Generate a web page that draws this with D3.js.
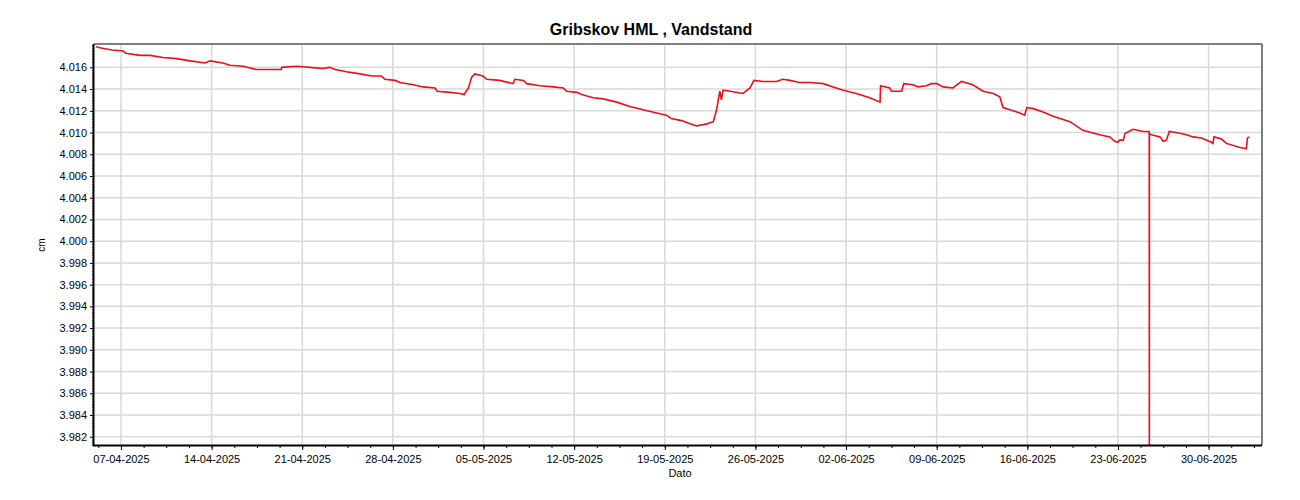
<!DOCTYPE html>
<html><head><meta charset="utf-8">
<script src="https://cdn.jsdelivr.net/npm/d3@7"></script>
<style>body{margin:0;background:#fff}svg{display:block}text{font-family:"Liberation Sans",Arial,sans-serif}</style>
</head><body>
<svg id="c" width="1300" height="500"></svg>
<script>
const title = "Gribskov HML , Vandstand";
const yLabel = "cm";
const xLabel = "Dato";
const times = ["2025-04-05T02:00","2025-04-05T09:00","2025-04-06T07:00","2025-04-07T04:00","2025-04-07T09:00","2025-04-08T11:00","2025-04-09T06:00","2025-04-10T06:00","2025-04-11T07:00","2025-04-12T08:00","2025-04-13T12:00","2025-04-13T21:00","2025-04-14T21:00","2025-04-15T10:00","2025-04-16T10:00","2025-04-17T11:00","2025-04-19T09:00","2025-04-19T10:00","2025-04-20T14:00","2025-04-21T14:00","2025-04-22T15:00","2025-04-23T03:00","2025-04-23T13:00","2025-04-24T10:00","2025-04-25T11:00","2025-04-26T09:00","2025-04-27T03:00","2025-04-27T09:00","2025-04-28T04:00","2025-04-28T13:00","2025-04-29T14:00","2025-04-30T08:00","2025-05-01T06:00","2025-05-01T10:00","2025-05-02T10:00","2025-05-03T04:00","2025-05-03T12:00","2025-05-03T20:00","2025-05-04T02:00","2025-05-04T08:00","2025-05-04T23:00","2025-05-05T06:00","2025-05-06T06:00","2025-05-07T07:00","2025-05-07T10:00","2025-05-08T02:00","2025-05-08T08:00","2025-05-09T09:00","2025-05-10T09:00","2025-05-11T04:00","2025-05-11T10:00","2025-05-12T05:00","2025-05-12T14:00","2025-05-13T11:00","2025-05-14T06:00","2025-05-15T07:00","2025-05-16T07:00","2025-05-17T08:00","2025-05-18T09:00","2025-05-19T03:00","2025-05-19T12:00","2025-05-20T07:00","2025-05-20T23:00","2025-05-21T11:00","2025-05-22T06:00","2025-05-22T18:00","2025-05-23T00:00","2025-05-23T06:00","2025-05-23T09:00","2025-05-23T12:00","2025-05-24T01:00","2025-05-25T01:00","2025-05-25T14:00","2025-05-25T21:00","2025-05-26T14:00","2025-05-27T15:00","2025-05-28T03:00","2025-05-28T16:00","2025-05-29T10:00","2025-05-30T05:00","2025-05-31T06:00","2025-06-01T00:00","2025-06-01T19:00","2025-06-02T19:00","2025-06-03T20:00","2025-06-04T15:00","2025-06-04T16:00","2025-06-05T09:00","2025-06-05T12:00","2025-06-06T07:00","2025-06-06T11:00","2025-06-07T04:00","2025-06-07T14:00","2025-06-08T05:00","2025-06-08T14:00","2025-06-09T00:00","2025-06-09T12:00","2025-06-10T06:00","2025-06-10T22:00","2025-06-11T19:00","2025-06-12T14:00","2025-06-13T09:00","2025-06-13T21:00","2025-06-14T03:00","2025-06-14T16:00","2025-06-15T10:00","2025-06-15T19:00","2025-06-15T23:00","2025-06-16T11:00","2025-06-17T05:00","2025-06-18T00:00","2025-06-19T07:00","2025-06-20T07:00","2025-06-21T14:00","2025-06-22T09:00","2025-06-22T18:00","2025-06-23T00:00","2025-06-23T03:00","2025-06-23T10:00","2025-06-23T13:00","2025-06-24T04:00","2025-06-24T23:00","2025-06-25T10:00","2025-06-25T10:10","2025-06-25T10:20","2025-06-25T14:00","2025-06-26T06:00","2025-06-26T12:00","2025-06-26T18:00","2025-06-26T23:00","2025-06-27T12:00","2025-06-28T07:00","2025-06-28T19:00","2025-06-29T11:00","2025-06-30T05:00","2025-06-30T08:00","2025-06-30T10:00","2025-07-01T00:00","2025-07-01T09:00","2025-07-02T09:00","2025-07-02T22:00","2025-07-03T00:00","2025-07-03T04:00"];
const levels = [4.0179,4.0178,4.0176,4.0175,4.0173,4.0171,4.0171,4.0169,4.0168,4.0166,4.0164,4.0166,4.0164,4.0162,4.0161,4.0158,4.0158,4.0160,4.0161,4.0160,4.0159,4.0160,4.0158,4.0156,4.0154,4.0152,4.0152,4.0149,4.0148,4.0146,4.0144,4.0142,4.0141,4.0138,4.0137,4.0136,4.0135,4.0141,4.0151,4.0154,4.0152,4.0149,4.0148,4.0145,4.0149,4.0148,4.0145,4.0143,4.0142,4.0141,4.0138,4.0137,4.0135,4.0132,4.0131,4.0128,4.0124,4.0121,4.0118,4.0116,4.0113,4.0111,4.0108,4.0106,4.0108,4.0110,4.0121,4.0138,4.0130,4.0139,4.0138,4.0136,4.0141,4.0148,4.0147,4.0147,4.0149,4.0148,4.0146,4.0146,4.0145,4.0142,4.0139,4.0136,4.0132,4.0128,4.0143,4.0141,4.0138,4.0138,4.0145,4.0144,4.0142,4.0143,4.0145,4.0145,4.0142,4.0141,4.0147,4.0144,4.0138,4.0136,4.0133,4.0123,4.0121,4.0118,4.0116,4.0123,4.0122,4.0119,4.0115,4.0110,4.0102,4.0098,4.0096,4.0092,4.0091,4.0093,4.0093,4.0099,4.0103,4.0101,4.0101,3.9750,4.0099,4.0098,4.0096,4.0092,4.0093,4.0101,4.0100,4.0098,4.0096,4.0095,4.0091,4.0090,4.0096,4.0094,4.0090,4.00865,4.0085,4.0095,4.0096];
const xDomain = ["2025-04-04T22:00","2025-07-04T03:00"];
const yDomain = [3.98124, 4.01815];
const yTickValues = [3.982,3.984,3.986,3.988,3.990,3.992,3.994,3.996,3.998,4.000,4.002,4.004,4.006,4.008,4.010,4.012,4.014,4.016];
const xTickLabels = ["07-04-2025","14-04-2025","21-04-2025","28-04-2025","05-05-2025","12-05-2025","19-05-2025","26-05-2025","02-06-2025","09-06-2025","16-06-2025","23-06-2025","30-06-2025"];

const parseT = d3.timeParse("%Y-%m-%dT%H:%M");
const parseL = d3.timeParse("%d-%m-%Y");
const data = times.map((t,i)=>({t:parseT(t), v:levels[i]}));
const L=94, R=1262, T=44, B=445;
const svg = d3.select("#c");
const x = d3.scaleTime().domain(xDomain.map(parseT)).range([L,R]);
const y = d3.scaleLinear().domain(yDomain).range([B,T]);
const xMajor = xTickLabels.map(parseL);
const xMinor = [];
for (let t = +xMajor[0] - 42*3600e3; t < +x.domain()[1]; t += 42*3600e3) xMinor.push(new Date(t));
const yMinor = d3.range(Math.ceil(yDomain[0]/0.00025), Math.floor(yDomain[1]/0.00025)+1).map(k=>k*0.00025);

// grid
svg.append("g").selectAll("line").data(yTickValues).join("line")
  .attr("x1",L).attr("x2",R).attr("y1",d=>y(d)).attr("y2",d=>y(d))
  .attr("stroke","#d9d9d9").attr("stroke-width",1.5);
svg.append("g").selectAll("line").data(xMajor).join("line")
  .attr("x1",d=>x(d)).attr("x2",d=>x(d)).attr("y1",T).attr("y2",B)
  .attr("stroke","#d9d9d9").attr("stroke-width",1.5);

// line
svg.append("clipPath").attr("id","clip").append("rect").attr("x",L).attr("y",T).attr("width",R-L).attr("height",B-T);
svg.append("path").datum(data).attr("clip-path","url(#clip)")
  .attr("fill","none").attr("stroke","#e8101a").attr("stroke-width",1.6)
  .attr("d", d3.line().x(d=>x(d.t)).y(d=>y(d.v)));

// frame
svg.append("line").attr("x1",L).attr("x2",R).attr("y1",T).attr("y2",T).attr("stroke","#7f7f7f").attr("stroke-width",2);
svg.append("line").attr("x1",R).attr("x2",R).attr("y1",T).attr("y2",B).attr("stroke","#7f7f7f").attr("stroke-width",2);

// axes
const xAxisMinor = d3.axisBottom(x).tickValues(xMinor).tickSize(3).tickFormat("");
const gxm = svg.append("g").attr("transform",`translate(0,${B})`).call(xAxisMinor);
gxm.select(".domain").remove();
gxm.selectAll("line").attr("stroke","#000");
const xAxis = d3.axisBottom(x).tickValues(xMajor).tickSize(5).tickSizeOuter(0).tickFormat((d,i)=>xTickLabels[i]);
const gx = svg.append("g").attr("transform",`translate(0,${B})`).call(xAxis);
gx.select(".domain").attr("stroke","#000").attr("stroke-width",2).attr("d",`M${L-1},0.5H${R}`);
gx.selectAll("text").attr("font-size",11).attr("fill","#000").attr("dy","0.9em").attr("font-family","'Liberation Sans',Arial,sans-serif");

const yAxisMinor = d3.axisLeft(y).tickValues(yMinor).tickSize(2).tickFormat("");
const gym = svg.append("g").attr("transform",`translate(${L},0)`).call(yAxisMinor);
gym.select(".domain").remove();
gym.selectAll("line").attr("stroke","#555");
const yAxis = d3.axisLeft(y).tickValues(yTickValues).tickSize(4).tickSizeOuter(0).tickFormat(d3.format(".3f"));
const gy = svg.append("g").attr("transform",`translate(${L},0)`).call(yAxis);
gy.select(".domain").attr("stroke","#000").attr("stroke-width",2).attr("d",`M-0.5,${T}V${B+1}`);
gy.selectAll("text").attr("font-size",11).attr("fill","#000").attr("font-family","'Liberation Sans',Arial,sans-serif");

// labels
svg.append("text").attr("x",651).attr("y",35).attr("text-anchor","middle")
  .attr("font-size",16).attr("font-weight","bold").text(title);
svg.append("text").attr("x",680).attr("y",477).attr("text-anchor","middle").attr("font-size",11).text(xLabel);
svg.append("text").attr("transform","translate(45,245) rotate(-90)").attr("text-anchor","middle").attr("font-size",10).text(yLabel);
</script>
</body></html>
